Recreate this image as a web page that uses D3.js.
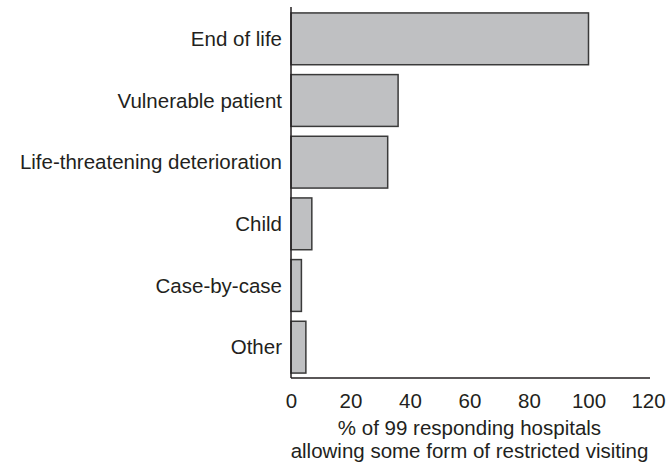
<!DOCTYPE html>
<html>
<head>
<meta charset="utf-8">
<script src="https://cdn.jsdelivr.net/npm/d3@7"></script>
<style>
  body { margin: 0; background: #fff; }
  text { font-family: "Liberation Sans", Arial, sans-serif; fill: #231f20; }
</style>
</head>
<body>
<div id="chart"></div>
<script>
// categories, top to bottom
var categories = ["End of life", "Vulnerable patient", "Life-threatening deterioration", "Child", "Case-by-case", "Other"];
// % of responding hospitals
var values = [100, 36, 32.5, 7, 3.5, 5];
var xTicks = [0, 20, 40, 60, 80, 100, 120];
var titleLines = ["% of 99 responding hospitals", "allowing some form of restricted visiting"];

var width = 669, height = 463;
var fontSize = "20.5px";

var svg = d3.select("#chart")
            .append("svg")
            .attr("width", width)
            .attr("height", height);

var x = d3.scaleLinear()
          .domain([0, 120])
          .range([291, 648]);

var y = d3.scaleBand()
          .domain(categories)
          .range([8, 378])
          .paddingInner(0.16)
          .paddingOuter(0.08);

var data = categories.map(function(c, i) { return {cat: c, val: values[i]}; });

// bars
svg.selectAll("rect.bar")
   .data(data)
   .enter()
   .append("rect")
   .attr("class", "bar")
   .attr("x", x(0))
   .attr("y", function(d) { return y(d.cat); })
   .attr("width", function(d) { return x(d.val) - x(0); })
   .attr("height", y.bandwidth())
   .attr("fill", "#bfc0c2")
   .attr("stroke", "#3a3a3a")
   .attr("stroke-width", 1.5);

// category labels
svg.selectAll("text.cat")
   .data(data)
   .enter()
   .append("text")
   .attr("class", "cat")
   .attr("x", 282)
   .attr("y", function(d) { return y(d.cat) + y.bandwidth() / 2; })
   .attr("dy", "0.35em")
   .attr("text-anchor", "end")
   .style("font-size", fontSize)
   .text(function(d) { return d.cat; });

// y axis line
svg.append("line")
   .attr("x1", x(0)).attr("x2", x(0))
   .attr("y1", 7).attr("y2", 378)
   .attr("stroke", "#231f20")
   .attr("stroke-width", 1.5);

// x axis
var xAxis = d3.axisBottom(x)
              .tickValues(xTicks)
              .tickSize(0)
              .tickPadding(15);

var gx = svg.append("g")
            .attr("transform", "translate(0,378)")
            .call(xAxis);
gx.select(".domain").remove();
gx.selectAll("text")
  .style("font-size", fontSize)
  .style("font-family", "'Liberation Sans', Arial, sans-serif")
  .attr("fill", "#231f20");

svg.append("line")
   .attr("x1", x(0)).attr("x2", 650)
   .attr("y1", 378).attr("y2", 378)
   .attr("stroke", "#231f20")
   .attr("stroke-width", 1.5);

// axis title
svg.selectAll("text.title")
   .data(titleLines)
   .enter()
   .append("text")
   .attr("class", "title")
   .attr("x", (x(0) + x(120)) / 2)
   .attr("y", function(d, i) { return 435 + i * 23; })
   .attr("text-anchor", "middle")
   .style("font-size", fontSize)
   .text(function(d) { return d; });
</script>
</body>
</html>
